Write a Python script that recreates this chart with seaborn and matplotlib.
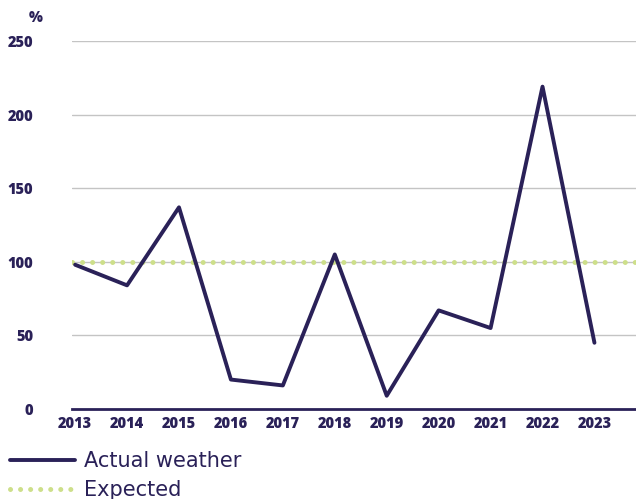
import matplotlib
matplotlib.use("Agg")
import matplotlib.pyplot as plt
from matplotlib.lines import Line2D
import seaborn as sns
import pandas as pd

years = [2013, 2014, 2015, 2016, 2017, 2018, 2019, 2020, 2021, 2022, 2023]
actual = [98, 84, 137, 20, 16, 105, 9, 67, 55, 219, 45]
expected = 100
y_ticks = [0, 50, 100, 150, 200, 250]

navy = "#2a2158"
green = "#cddf8a"
grid = "#c4c4c4"

sns.set_theme(style="white")
plt.rcParams["font.family"] = ["Open Sans", "DejaVu Sans"]

fig = plt.figure(figsize=(6.36, 4.99), dpi=100)
ax = fig.add_axes([72 / 636, 90 / 499, 1 - 72 / 636, 368 / 499])

df = pd.DataFrame({"year": years, "value": actual})

for t in y_ticks[1:]:
    ax.axhline(t, color=grid, lw=1.0, zorder=0)

dots = (0, (0.01, 2.0))
ax.axhline(expected, color=green, lw=3.6, ls=dots,
           dash_capstyle="round", zorder=1)

sns.lineplot(data=df, x="year", y="value", ax=ax, color=navy, lw=2.8,
             zorder=3, clip_on=False)

ax.set_xlim(2013 - 0.06, 2023.8)
ax.set_ylim(0, 250)
ax.set_xticks(years)
ax.set_yticks(y_ticks)
ax.set_xlabel("")
ax.set_ylabel("")

for s in ["top", "right", "left"]:
    ax.spines[s].set_visible(False)
ax.spines["bottom"].set_color(navy)
ax.spines["bottom"].set_linewidth(2.0)

ax.tick_params(axis="both", length=0, labelsize=10.5, labelcolor=navy)
ax.tick_params(axis="x", pad=5)
ax.tick_params(axis="y", pad=28)
for lab in ax.get_xticklabels() + ax.get_yticklabels():
    lab.set_fontweight(800)

fig.text(43 / 636, 1 - 18 / 499, "%", ha="right", va="center",
         fontsize=10.5, fontweight=800, color=navy)

handles = [
    Line2D([0], [0], color=navy, lw=2.8),
    Line2D([0], [0], color=green, lw=3.6, ls=dots, dash_capstyle="round"),
]
fig.legend(handles, ["Actual weather", "Expected"], loc="upper left",
           bbox_to_anchor=(10 / 636, 1 - 451 / 499), frameon=False,
           prop={"family": ["DejaVu Sans"], "size": 15},
           labelcolor=navy, handlelength=3.1, borderpad=0,
           handletextpad=0.45, labelspacing=0.45, borderaxespad=0)

fig.savefig("out.png", dpi=100)
